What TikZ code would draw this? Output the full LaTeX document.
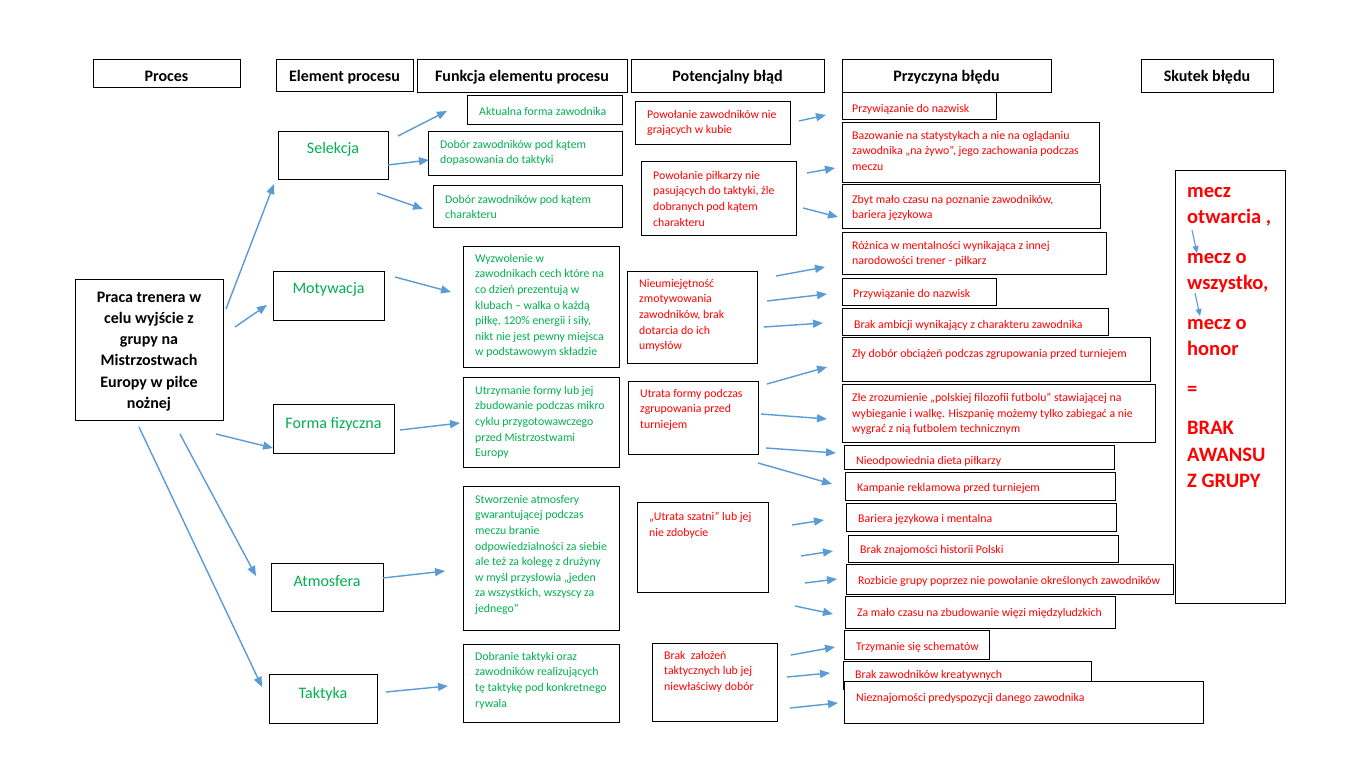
\documentclass[tikz,border=0pt]{standalone}
\usepackage{fontspec}
\setmainfont{Carlito}
\usetikzlibrary{arrows.meta,fit}
\definecolor{arrowblue}{RGB}{91,155,213}
\definecolor{elgreen}{RGB}{0,176,80}
\definecolor{errred}{RGB}{255,0,0}
\newcommand\myarr[3]{\coordinate (#1s) at (#2); \coordinate (#1e) at (#3); \draw[arr] (#1s) -- (#1e);}
\newcommand\mybox[3]{\node[box, fit={(#2) (#3)}] (#1) {};}
\newcommand\mytxt[4]{\node[txt, text=#2] (#1) at (#3) {#4};}
\begin{document}
\begin{tikzpicture}[x=1pt,y=-1pt,
  box/.style={draw=black, line width=1pt, fill=white, inner sep=0pt},
  txt/.style={anchor=north west, inner sep=0pt, align=left, yshift=-2.5pt,
    font=\fontsize{11.8}{15.6}\selectfont, execute at begin node={\rule{0pt}{11pt}}},
  bigtxt/.style={anchor=north west, inner sep=0pt, align=left, text=errred,
    font=\bfseries\fontsize{20.5}{26.5}\selectfont, execute at begin node={\rule{0pt}{20pt}}},
  hdr/.style={inner sep=0pt, font=\bfseries\fontsize{16}{18}\selectfont, text height=11pt, text depth=3pt},
  eltxt/.style={inner sep=0pt, text=elgreen, font=\fontsize{16}{19}\selectfont, text height=11.5pt, text depth=3.5pt},
  maintxt/.style={inner sep=0pt, align=center, font=\bfseries\fontsize{16}{21.3}\selectfont},
  arr/.style={draw=arrowblue, line width=1.4pt, -{Triangle[length=10pt,width=8pt]}},
  smallarr/.style={draw=arrowblue, line width=1.1pt, -{Triangle[length=7pt,width=6pt]}}
]
\useasboundingbox (0,0) rectangle (1350,757);
\fill[white] (0,0) rectangle (1350,757);

% headers
\mybox{hProc}{93,60}{240,88}
\mybox{hElem}{276,60}{413,92}
\mybox{hFunk}{417,60}{627,93}
\mybox{hPot}{631,60}{824,93}
\mybox{hPrz}{842,60}{1051,93}
\mybox{hSkut}{1141,60}{1273,93}
\node[hdr] (hProc-t) at (166.5,78) {Proces};
\node[hdr] (hElem-t) at (344.5,78) {Element procesu};
\node[hdr] (hFunk-t) at (522,78) {Funkcja elementu procesu};
\node[hdr] (hPot-t) at (727.5,78) {Potencjalny błąd};
\node[hdr] (hPrz-t) at (946.5,78) {Przyczyna błędu};
\node[hdr] (hSkut-t) at (1207,78) {Skutek błędu};

% main process
\mybox{main}{75,279}{223,420}
\node[maintxt] (main-t) at ([yshift=-2pt]main.center) {Praca trenera w\\celu wyjście z\\grupy na\\Mistrzostwach\\Europy w piłce\\nożnej};

% elements
\mybox{sel}{278,132}{388,180}
\node[eltxt] (sel-t) at (333,150) {Selekcja};
\mybox{mot}{273,271}{384,320}
\node[eltxt] (mot-t) at (328.5,289.5) {Motywacja};
\mybox{for}{273,404}{394,453}
\node[eltxt] (for-t) at (333.5,424) {Forma fizyczna};
\mybox{atm}{271,563}{383,611}
\node[eltxt] (atm-t) at (327,582) {Atmosfera};
\mybox{tak}{269,674}{377,723}
\node[eltxt] (tak-t) at (323,694) {Taktyka};

% functions
\mybox{f1}{467,96}{622,125}
\mytxt{f1-t}{elgreen}{479,101.5}{Aktualna forma zawodnika}
\mybox{f2}{428,132}{622,176}
\mytxt{f2-t}{elgreen}{440,137.5}{Dobór zawodników pod kątem\\dopasowania do taktyki}
\mybox{f3}{433,186}{622,227}
\mytxt{f3-t}{elgreen}{445,192.5}{Dobór zawodników pod kątem\\charakteru}
\mybox{f4}{463,246}{619,367}
\mytxt{f4-t}{elgreen}{475,251.5}{Wyzwolenie w\\zawodnikach cech które na\\co dzień prezentują w\\klubach – walka o każdą\\piłkę, 120\% energii i siły,\\nikt nie jest pewny miejsca\\w podstawowym składzie}
\mybox{f5}{463,377}{619,467}
\mytxt{f5-t}{elgreen}{475,383.5}{Utrzymanie formy lub jej\\zbudowanie podczas mikro\\cyklu przygotowawczego\\przed Mistrzostwami\\Europy}
\mybox{f6}{463,486}{619,630}
\mytxt{f6-t}{elgreen}{475,492.5}{Stworzenie atmosfery\\gwarantującej podczas\\meczu branie\\odpowiedzialności za siebie\\ale też za kolegę z drużyny\\w myśl przysłowia „jeden\\za wszystkich, wszyscy za\\jednego”}
\mybox{f7}{463,644}{619,722}
\mytxt{f7-t}{elgreen}{475,649.5}{Dobranie taktyki oraz\\zawodników realizujących\\tę taktykę pod konkretnego\\rywala}

% potential errors
\mybox{e1}{635,102}{790,145}
\mytxt{e1-t}{errred}{647,107.5}{Powołanie zawodników nie\\grających w kubie}
\mybox{e2}{641,162}{796,235}
\mytxt{e2-t}{errred}{653,168.5}{Powołanie piłkarzy nie\\pasujących do taktyki, źle\\dobranych pod kątem\\charakteru}
\mybox{e3}{627,271}{757,363}
\mytxt{e3-t}{errred}{639,276.5}{Nieumiejętność\\zmotywowania\\zawodników, brak\\dotarcia do ich\\umysłów}
\mybox{e4}{628,381}{758,454}
\mytxt{e4-t}{errred}{640,386.5}{Utrata formy podczas\\zgrupowania przed\\turniejem}
\mybox{e5}{637,502}{768,592}
\mytxt{e5-t}{errred}{649,509.5}{„Utrata szatni” lub jej\\nie zdobycie}
\mybox{e6}{652,643}{777,721}
\mytxt{e6-t}{errred}{664,648.5}{Brak\ \ założeń\\taktycznych lub jej\\niewłaściwy dobór}

% causes
\mybox{c1}{842,93}{996,120}
\mytxt{c1-t}{errred}{852,98.5}{Przywiązanie do nazwisk}
\mybox{c2}{842,123}{1099,183}
\mytxt{c2-t}{errred}{852,128.5}{Bazowanie na statystykach a nie na oglądaniu\\zawodnika „na żywo”, jego zachowania podczas\\meczu}
\mybox{c3}{842,185}{1100,228}
\mytxt{c3-t}{errred}{852,192.5}{Zbyt mało czasu na poznanie zawodników,\\bariera językowa}
\mybox{c4}{842,232}{1106,274}
\mytxt{c4-t}{errred}{852,238.5}{Różnica w mentalności wynikająca z innej\\narodowości trener - piłkarz}
\mybox{c5}{842,278}{996,305}
\mytxt{c5-t}{errred}{853,283.5}{Przywiązanie do nazwisk}
\mybox{c6}{842,308}{1108,335}
\mytxt{c6-t}{errred}{854,314.5}{Brak ambicji wynikający z charakteru zawodnika}
\mybox{c7}{842,337}{1150,381}
\mytxt{c7-t}{errred}{852,343.5}{Zły dobór obciążeń podczas zgrupowania przed turniejem}
\mybox{c8}{842,384}{1155,442}
\mytxt{c8-t}{errred}{852,390.5}{Złe zrozumienie „polskiej filozofii futbolu” stawiającej na\\wybieganie i walkę. Hiszpanię możemy tylko zabiegać a nie\\wygrać z nią futbolem technicznym}
\mybox{c9}{844,445}{1114,469}
\mytxt{c9-t}{errred}{856,450.5}{Nieodpowiednia dieta piłkarzy}
\mybox{c10}{845,472}{1115,500}
\mytxt{c10-t}{errred}{857,477.5}{Kampanie reklamowa przed turniejem}
\mybox{c11}{846,503}{1116,531}
\mytxt{c11-t}{errred}{858,508.5}{Bariera językowa i mentalna}
\mybox{c12}{848,535}{1118,562}
\mytxt{c12-t}{errred}{860,539.5}{Brak znajomości historii Polski}
\mybox{c13}{846,564}{1173,594}
\mytxt{c13-t}{errred}{858,570.5}{Rozbicie grupy poprzez nie powołanie określonych zawodników}
\mybox{c14}{845,596}{1115,628}
\mytxt{c14-t}{errred}{857,602.5}{Za mało czasu na zbudowanie więzi międzyludzkich}
\mybox{c15}{844,630}{989,659}
\mytxt{c15-t}{errred}{856,636.5}{Trzymanie się schematów}
\mybox{c16}{843,661}{1091,689}
\mytxt{c16-t}{errred}{855,665}{Brak zawodników kreatywnych}
\mybox{c17}{844,681}{1203,723}
\mytxt{c17-t}{errred}{856,687.5}{Nieznajomości predyspozycji danego zawodnika}

% effect
\mybox{sk}{1175,171}{1285,603}
\node[bigtxt] (sk-t) at (1187,187) {mecz\\otwarcia ,\\[13pt]mecz o\\wszystko,\\[13pt]mecz o\\honor\\[13pt]=\\[13pt]BRAK\\AWANSU\\Z GRUPY};
\coordinate (sk1s) at (1192,230); \coordinate (sk1e) at (1197,253);
\draw[smallarr] (sk1s) -- (sk1e);
\coordinate (sk2s) at (1195,293); \coordinate (sk2e) at (1200,316);
\draw[smallarr] (sk2s) -- (sk2e);

% arrows from main process to elements
\myarr{m1}{226,309}{274,184}
\myarr{m2}{235,327}{267,305}
\myarr{m3}{216,434}{273,448}
\myarr{m4}{180,434}{256,576}
\myarr{m5}{139,427}{262,687}

% arrows from elements to functions
\myarr{s1}{398,136}{447,111}
\myarr{s2}{388,165}{429,160}
\myarr{s3}{377,193}{423,209}
\myarr{mo1}{395,277}{451,292}
\myarr{fo1}{400,430}{460,423}
\myarr{at1}{383,578}{445,571}
\myarr{ta1}{386,692}{448,686}

% arrows from errors to causes
\myarr{p1}{799,121}{826,115}
\myarr{p2}{807,173}{835,168}
\myarr{p3}{803,208}{838,217}
\myarr{p4}{776,276}{825,267}
\myarr{p5}{767,301}{827,294}
\myarr{p6}{764,327}{823,323}
\myarr{p7}{767,384}{827,367}
\myarr{p8}{761,414}{827,419}
\myarr{p9}{766,448}{836,453}
\myarr{p10}{758,463}{832,484}
\myarr{p11}{792,525}{824,520}
\myarr{p12}{801,556}{833,551}
\myarr{p13}{805,583}{837,579}
\myarr{p14}{795,606}{833,614}
\myarr{p15}{791,655}{835,647}
\myarr{p16}{787,677}{830,673}
\myarr{p17}{790,708}{838,703}
\end{tikzpicture}
\end{document}
